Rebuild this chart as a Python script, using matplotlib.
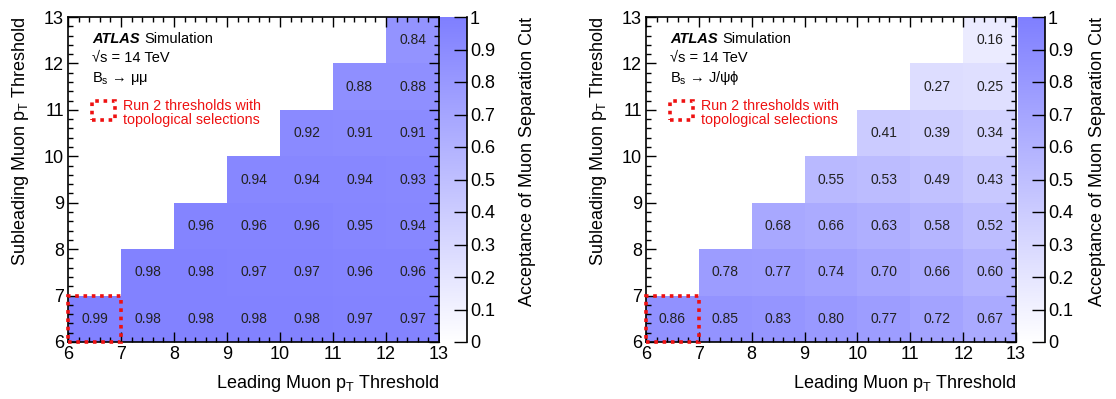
import numpy as np
import matplotlib
matplotlib.use("Agg")
import matplotlib.pyplot as plt
from matplotlib.colors import LinearSegmentedColormap
from matplotlib.patches import Rectangle
from matplotlib.ticker import MultipleLocator, FixedLocator

plt.rcParams['font.family'] = ['Liberation Sans', 'DejaVu Sans']
plt.rcParams['mathtext.fontset'] = 'custom'
plt.rcParams['mathtext.rm'] = 'Liberation Sans'
plt.rcParams['mathtext.it'] = 'Liberation Sans:italic'
plt.rcParams['mathtext.bf'] = 'Liberation Sans:bold'

# Data
leading_thresholds = [6, 7, 8, 9, 10, 11, 12]
subleading_thresholds = [6, 7, 8, 9, 10, 11, 12]

# rows: subleading threshold 6..12; values for leading threshold >= subleading
mumu_rows = [
    [0.99, 0.98, 0.98, 0.98, 0.98, 0.97, 0.97],
    [0.98, 0.98, 0.97, 0.97, 0.96, 0.96],
    [0.96, 0.96, 0.96, 0.95, 0.94],
    [0.94, 0.94, 0.94, 0.93],
    [0.92, 0.91, 0.91],
    [0.88, 0.88],
    [0.84],
]
jpsiphi_rows = [
    [0.86, 0.85, 0.83, 0.80, 0.77, 0.72, 0.67],
    [0.78, 0.77, 0.74, 0.70, 0.66, 0.60],
    [0.68, 0.66, 0.63, 0.58, 0.52],
    [0.55, 0.53, 0.49, 0.43],
    [0.41, 0.39, 0.34],
    [0.27, 0.25],
    [0.16],
]
colorbar_ticks = [0, 0.1, 0.2, 0.3, 0.4, 0.5, 0.6, 0.7, 0.8, 0.9, 1.0]
process_labels = [r"B$_{\rm s}$ → μμ", r"B$_{\rm s}$ → J/ψϕ"]

cmap = LinearSegmentedColormap.from_list("wb", [(1, 1, 1), (0.5, 0.5, 1.0)])

W, H = 1116, 399
fig = plt.figure(figsize=(W / 100, H / 100), dpi=100)


def px(x0, y0, x1, y1):
    return [x0 / W, 1 - y1 / H, (x1 - x0) / W, (y1 - y0) / H]


def build_grid(rows):
    n = len(leading_thresholds)
    Z = np.full((n, n), np.nan)
    for i, row in enumerate(rows):
        for k, v in enumerate(row):
            Z[i, i + k] = v
    return np.ma.masked_invalid(Z)


def draw_panel(ax_rect, cb_rect, rows, proc, cblabel_x):
    ax = fig.add_axes(px(*ax_rect))
    Z = build_grid(rows)
    xe = np.array(leading_thresholds + [leading_thresholds[-1] + 1])
    ye = np.array(subleading_thresholds + [subleading_thresholds[-1] + 1])
    ax.pcolormesh(xe, ye, Z, cmap=cmap, vmin=0, vmax=1, shading='flat')
    for i in range(Z.shape[0]):
        for j in range(Z.shape[1]):
            if not np.ma.is_masked(Z[i, j]):
                ax.text(leading_thresholds[j] + 0.5, subleading_thresholds[i] + 0.5,
                        f"{Z[i, j]:.2f}", ha='center', va='center', fontsize=10,
                        color='#222222')
    ax.set_xlim(6, 13)
    ax.set_ylim(6, 13)
    ax.xaxis.set_major_locator(MultipleLocator(1))
    ax.yaxis.set_major_locator(MultipleLocator(1))
    ax.xaxis.set_minor_locator(MultipleLocator(0.2))
    ax.yaxis.set_minor_locator(MultipleLocator(0.2))
    ax.tick_params(which='both', direction='in', top=True, right=True, labelsize=13)
    ax.tick_params(which='major', length=7, width=1)
    ax.tick_params(which='minor', length=3.6, width=1)
    ax.tick_params(axis='x', pad=3)
    ax.tick_params(axis='y', pad=3)
    for s in ax.spines.values():
        s.set_linewidth(1.2)
    ax.set_xlabel(r"Leading Muon p$_{\rm T}$ Threshold", fontsize=13, loc='right',
                  labelpad=7)
    ax.set_ylabel(r"Subleading Muon p$_{\rm T}$ Threshold", fontsize=13, loc='top',
                  labelpad=9)
    # red dotted Run 2 box
    ax.add_patch(Rectangle((6, 6), 1, 1, fill=False, edgecolor='#ee1111',
                           linestyle=(0, (1, 1.3)), linewidth=2.6, clip_on=False, zorder=5))
    # annotations
    ax.text(0.065, 0.92, "ATLAS", transform=ax.transAxes, fontsize=10.5,
            fontweight='bold', style='italic', va='baseline')
    ax.text(0.207, 0.92, "Simulation", transform=ax.transAxes, fontsize=10.5, va='baseline')
    ax.text(0.065, 0.862, "√s = 14 TeV", transform=ax.transAxes, fontsize=10.5,
            va='baseline')
    ax.text(0.065, 0.80, proc, transform=ax.transAxes, fontsize=10.5, va='baseline')
    ax.add_patch(Rectangle((0.064, 0.682), 0.062, 0.058, transform=ax.transAxes,
                           fill=False, edgecolor='#ee1111', linestyle=(0, (1, 1.3)),
                           linewidth=2.6, clip_on=False))
    ax.text(0.148, 0.714, "Run 2 thresholds with",
            transform=ax.transAxes, fontsize=10.3, color='#ee1111', va='baseline')
    ax.text(0.148, 0.672, "topological selections",
            transform=ax.transAxes, fontsize=10.3, color='#ee1111', va='baseline')

    # colorbar
    cax = fig.add_axes(px(*cb_rect))
    grad = np.linspace(0, 1, 256).reshape(-1, 1)
    cax.imshow(grad, cmap=cmap, aspect='auto', origin='lower', extent=(0, 1, 0, 1))
    cax.set_xlim(0, 1)
    cax.set_ylim(0, 1)
    for name in ['left', 'top', 'bottom']:
        cax.spines[name].set_visible(False)
    cax.spines['right'].set_linewidth(1.2)
    cax.set_xticks([])
    cax.yaxis.tick_right()
    cax.yaxis.set_major_locator(FixedLocator(colorbar_ticks))
    cax.set_yticklabels([f"{t:g}" for t in colorbar_ticks])
    cax.tick_params(axis='y', direction='in', length=9.5, width=1, labelsize=13, pad=2)
    fig.text(cblabel_x / W, 1 - 17 / H, "Acceptance of Muon Separation Cut",
             rotation=90, ha='center', va='top', fontsize=13)
    return ax


draw_panel((68, 17, 439, 342), (440, 17, 467, 342), mumu_rows, process_labels[0], 528)
draw_panel((646, 17, 1016, 342), (1018, 17, 1045, 342), jpsiphi_rows, process_labels[1], 1098)

fig.savefig("out.png", dpi=100)
